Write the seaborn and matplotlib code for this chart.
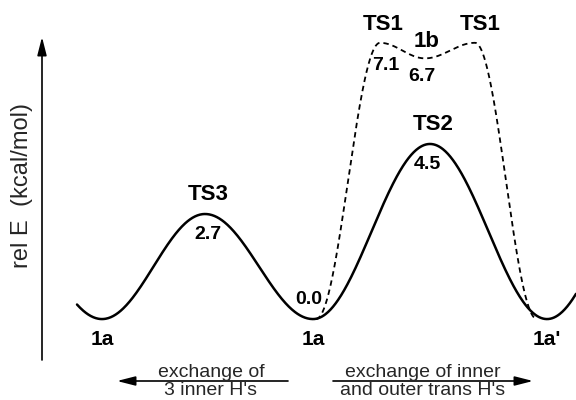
import numpy as np
import pandas as pd
import matplotlib
matplotlib.use("Agg")
import matplotlib.pyplot as plt
import seaborn as sns

# ---- data: stationary points along the reaction coordinate (kcal/mol) ----
solid_names = ["", "1a", "TS3", "1a", "TS2", "1a'", ""]
solid_x = [-0.01, 1.02, 2.05, 3.13, 4.30, 5.47, 6.64]
solid_E = [2.7, 0.0, 2.7, 0.0, 4.5, 0.0, 4.5]
solid_range = [0.77, 5.76]

dash_names = ["1a", "TS1", "1b", "TS1", "1a'"]
dash_x = [3.16, 3.80, 4.25, 4.75, 5.37]
dash_E = [0.0, 7.1, 6.7, 7.1, 0.0]

energy_labels = ["0.0", "2.7", "4.5", "7.1", "6.7"]
axis_label = "rel E  (kcal/mol)"
left_text = ["exchange of", "3 inner H's"]
right_text = ["exchange of inner", "and outer trans H's"]


def smooth_profile(xs, es, lo, hi, n=800):
    """Cosine-shaped connection between consecutive stationary points."""
    xs = np.asarray(xs, float)
    es = np.asarray(es, float)
    grid = np.linspace(lo, hi, n)
    out = np.empty_like(grid)
    for k, g in enumerate(grid):
        i = np.clip(np.searchsorted(xs, g) - 1, 0, len(xs) - 2)
        t = (g - xs[i]) / (xs[i + 1] - xs[i])
        out[k] = es[i] + (es[i + 1] - es[i]) * (1 - np.cos(np.pi * t)) / 2
    return pd.DataFrame({"rc": grid, "E": out})


sns.set_theme(style="white")
plt.rcParams["font.family"] = ["Liberation Sans", "DejaVu Sans"]

fig = plt.figure(figsize=(5.76, 4.0), dpi=100)
ax = fig.add_axes([0, 0, 1, 1])
ax.set_xlim(0, 5.76)
ax.set_ylim(-2.08, 8.20)
ax.axis("off")

solid_df = smooth_profile(solid_x, solid_E, *solid_range)
dash_df = smooth_profile(dash_x, dash_E, dash_x[0], dash_x[-1])

sns.lineplot(data=solid_df, x="rc", y="E", ax=ax, color="black", lw=1.8,
             sort=False, estimator=None)
sns.lineplot(data=dash_df, x="rc", y="E", ax=ax, color="black", lw=1.3,
             sort=False, estimator=None, dashes=False, linestyle=(0, (3.0, 2.2)))

bold = dict(fontweight="bold", ha="center", va="center", color="black")

# structure labels for the solid profile
for name, x, e in zip(solid_names, solid_x, solid_E):
    if not name:
        continue
    if e == 0.0:
        ax.annotate(name, (x, e), xytext=(0, -15), textcoords="offset points",
                    fontsize=15, **bold)
    else:
        ax.annotate(name, (x, e), xytext=(2, 14), textcoords="offset points",
                    fontsize=16, **bold)

# energies for solid profile
ax.annotate(energy_labels[0], (solid_x[3], solid_E[3]), xytext=(-3, 14),
            textcoords="offset points", fontsize=14, **bold)
ax.annotate(energy_labels[1], (solid_x[2], solid_E[2]), xytext=(2, -15),
            textcoords="offset points", fontsize=14, **bold)
ax.annotate(energy_labels[2], (solid_x[4], solid_E[4]), xytext=(-2, -15),
            textcoords="offset points", fontsize=14, **bold)

# dashed profile labels
ax.annotate(dash_names[1], (dash_x[1], dash_E[1]), xytext=(2, 13),
            textcoords="offset points", fontsize=16, **bold)
ax.annotate(dash_names[3], (dash_x[3], dash_E[3]), xytext=(4, 13),
            textcoords="offset points", fontsize=16, **bold)
ax.annotate(dash_names[2], (dash_x[2], dash_E[2]), xytext=(1, 12),
            textcoords="offset points", fontsize=16, **bold)
ax.annotate(energy_labels[3], (dash_x[1], dash_E[1]), xytext=(4, -16),
            textcoords="offset points", fontsize=14, **bold)
ax.annotate(energy_labels[4], (dash_x[2], dash_E[2]), xytext=(-2, -13),
            textcoords="offset points", fontsize=14, **bold)

# energy axis arrow
arrow_kw = dict(arrowstyle="-|>,head_length=1.1,head_width=0.28",
                color="black", lw=1.2, mutation_scale=10, shrinkA=0, shrinkB=0)
ax.annotate("", xy=(42 / 576, 1 - 37 / 400), xytext=(42 / 576, 1 - 360 / 400),
            xycoords="figure fraction", textcoords="figure fraction",
            arrowprops=arrow_kw)
fig.text(22 / 576, 1 - 186 / 400, axis_label, rotation=90, fontsize=17,
         ha="center", va="center")

# direction arrows at the bottom
ya = 1 - 381 / 400
ax.annotate("", xy=(117 / 576, ya), xytext=(288 / 576, ya),
            xycoords="figure fraction", textcoords="figure fraction",
            arrowprops=arrow_kw)
ax.annotate("", xy=(533 / 576, ya), xytext=(333 / 576, ya),
            xycoords="figure fraction", textcoords="figure fraction",
            arrowprops=arrow_kw)

for txt, xc in ((left_text, 211), (right_text, 423)):
    fig.text(xc / 576, 1 - 377 / 400, txt[0], fontsize=14, ha="center",
             va="baseline")
    fig.text(xc / 576, 1 - 395 / 400, txt[1], fontsize=14, ha="center",
             va="baseline")

fig.savefig("out.png", dpi=100, facecolor="white")
